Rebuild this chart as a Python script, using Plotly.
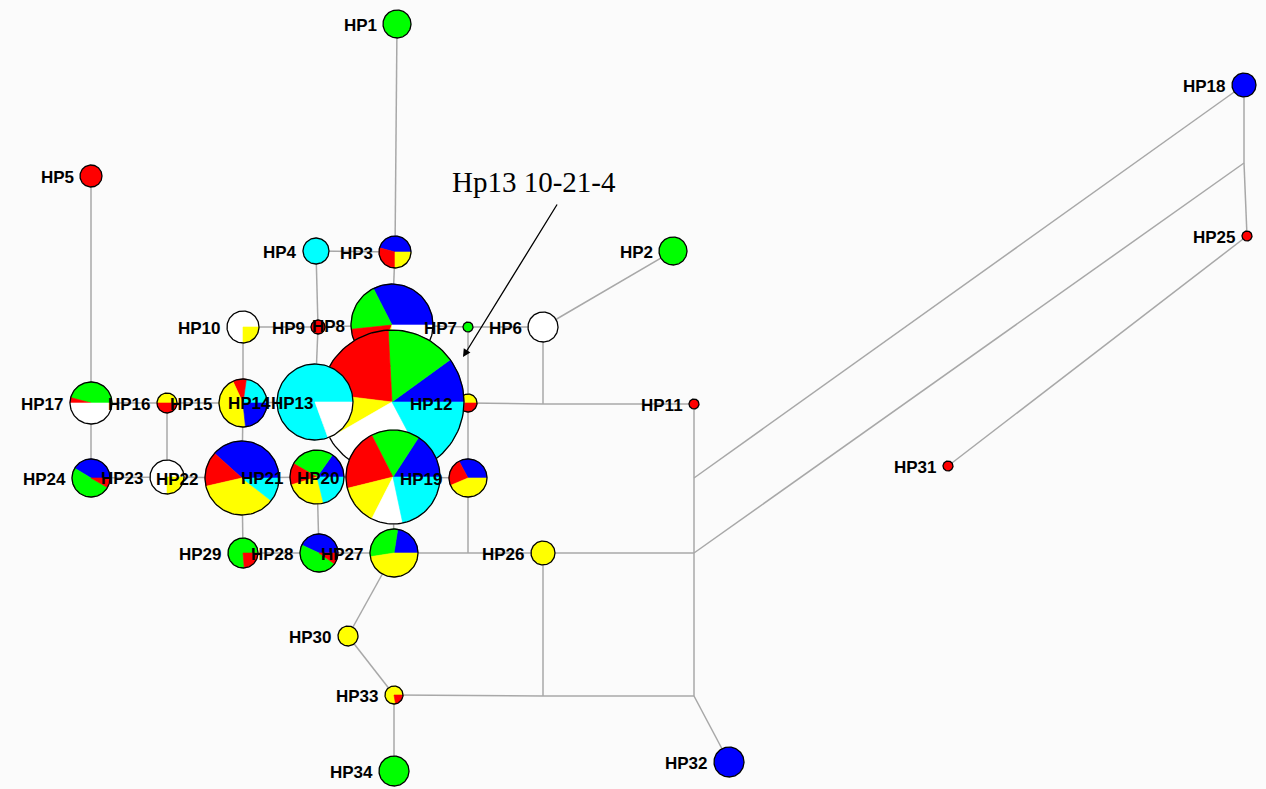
import numpy as np
import plotly.graph_objects as go

# Population colours used in the pies
pop_colors = {
    "B": "#0000ff",
    "G": "#00ff00",
    "R": "#ff0000",
    "Y": "#ffff00",
    "W": "#ffffff",
    "C": "#00ffff",
}

haplotypes = [f"HP{i}" for i in range(1, 35)]

# Share of each population within a haplotype, in the order the wedges are
# laid out (counter-clockwise, starting due east). Units are pie degrees.
composition = {
    "HP1": [("G", 360)],
    "HP2": [("G", 360)],
    "HP3": [("B", 165), ("R", 105), ("Y", 90)],
    "HP4": [("C", 360)],
    "HP5": [("R", 360)],
    "HP6": [("W", 360)],
    "HP7": [("G", 360)],
    "HP8": [("B", 117), ("G", 69), ("R", 60), ("Y", 20), ("W", 94)],
    "HP9": [("R", 360)],
    "HP10": [("W", 270), ("Y", 90)],
    "HP11": [("R", 360)],
    "HP12": [("Y", 180), ("R", 180)],
    "HP13": [("B", 36), ("G", 57), ("R", 80), ("Y", 37), ("W", 88), ("C", 62)],
    "HP14": [("C", 290), ("W", 70)],
    "HP15": [("C", 82), ("R", 33), ("Y", 161), ("B", 84)],
    "HP16": [("Y", 180), ("R", 180)],
    "HP17": [("G", 165), ("R", 15), ("W", 180)],
    "HP18": [("B", 360)],
    "HP19": [("B", 118), ("R", 85), ("Y", 157)],
    "HP20": [("B", 57), ("G", 60), ("R", 77), ("Y", 49), ("W", 39), ("C", 78)],
    "HP21": [("B", 55), ("G", 95), ("R", 47), ("Y", 87), ("C", 76)],
    "HP22": [("B", 138), ("R", 55), ("Y", 129), ("C", 38)],
    "HP23": [("W", 270), ("Y", 90)],
    "HP24": [("B", 149), ("G", 181), ("R", 30)],
    "HP25": [("R", 360)],
    "HP26": [("Y", 360)],
    "HP27": [("B", 81), ("G", 108), ("Y", 171)],
    "HP28": [("B", 155), ("G", 170), ("R", 35)],
    "HP29": [("G", 275), ("R", 85)],
    "HP30": [("Y", 360)],
    "HP31": [("R", 360)],
    "HP32": [("B", 360)],
    "HP33": [("Y", 280), ("R", 80)],
    "HP34": [("G", 360)],
}

# Network layout (screen units) and node radii
node_x = [397, 673, 395, 316, 91, 543, 468, 392, 318, 243, 694, 468, 392, 315, 243, 167, 91,
          1244, 468, 393, 317, 242, 167, 91, 1247, 543, 394, 319, 243, 348, 948, 729, 394, 394]
node_y = [24, 251, 252, 251, 176, 327, 327, 325, 327, 327, 404, 403, 402, 402, 403, 403, 403,
          85, 478, 477, 477, 478, 477, 478, 236, 553, 553, 553, 553, 636, 466, 762, 695, 771]
node_r = [14, 14, 16, 13, 11, 15, 5, 41, 7, 16, 5, 9, 72, 38, 24, 10, 21,
          12, 19, 47, 27, 37, 17, 19, 5, 12, 24, 19, 15, 10, 5, 15, 9, 15]

# Median / branching vertices of the network
junctions = {
    "J1": (468, 553), "J2": (694, 553), "J3": (543, 404), "J4": (694, 478),
    "J5": (694, 696), "J6": (1244, 163), "J7": (543, 696),
}

edges = [
    ("HP1", "HP3"), ("HP3", "HP8"), ("HP4", "HP3"), ("HP4", "HP9"), ("HP9", "HP14"),
    ("HP10", "HP9"), ("HP9", "HP8"), ("HP8", "HP7"), ("HP7", "HP6"), ("HP6", "HP2"),
    ("HP10", "HP15"), ("HP5", "HP17"), ("HP17", "HP16"), ("HP16", "HP15"),
    ("HP15", "HP14"), ("HP14", "HP13"), ("HP13", "HP12"), ("HP17", "HP24"),
    ("HP16", "HP23"), ("HP15", "HP22"), ("HP24", "HP23"), ("HP23", "HP22"),
    ("HP22", "HP21"), ("HP21", "HP20"), ("HP20", "HP19"), ("HP22", "HP29"),
    ("HP21", "HP28"), ("HP29", "HP28"), ("HP28", "HP27"), ("HP20", "HP27"),
    ("HP14", "HP20"), ("HP7", "HP12"), ("HP12", "HP19"), ("HP19", "J1"),
    ("HP27", "J1"), ("J1", "HP26"), ("HP26", "J2"), ("HP12", "J3"), ("J3", "HP11"),
    ("HP6", "J3"), ("HP11", "J4"), ("J4", "J2"), ("J2", "J5"), ("J4", "HP18"),
    ("J2", "J6"), ("HP18", "J6"), ("J6", "HP25"), ("HP25", "HP31"),
    ("HP27", "HP30"), ("HP30", "HP33"), ("HP33", "HP34"), ("HP33", "J7"),
    ("J7", "J5"), ("J7", "HP26"), ("J5", "HP32"),
]

callout_text = "Hp13 10-21-4"
callout_from = (558, 203)
callout_to = (463, 357)

W, H = 1266, 789

pos = {h: (x, y) for h, x, y in zip(haplotypes, node_x, node_y)}
pos.update(junctions)
rad = dict(zip(haplotypes, node_r))

fig = go.Figure()

# links
ex, ey = [], []
for a, b in edges:
    (x0, y0), (x1, y1) = pos[a], pos[b]
    ex += [x0, x1, None]
    ey += [y0, y1, None]
fig.add_trace(go.Scatter(x=ex, y=ey, mode="lines",
                         line=dict(color="#a8a8a8", width=1.5),
                         hoverinfo="skip", showlegend=False))


def arc(cx, cy, r, a0, a1, n):
    t = np.radians(np.linspace(a0, a1, n))
    return cx + r * np.cos(t), cy - r * np.sin(t)


# pies
for h in haplotypes:
    cx, cy = pos[h]
    r = rad[h]
    parts = composition[h]
    total = sum(v for _, v in parts)
    start = 0.0
    if len(parts) > 1:
        for pop, v in parts:
            span = 360.0 * v / total
            ax_, ay_ = arc(cx, cy, r, start, start + span, max(4, int(span / 2)))
            xs = [cx] + list(ax_) + [cx]
            ys = [cy] + list(ay_) + [cy]
            fig.add_trace(go.Scatter(
                x=xs, y=ys, mode="lines", fill="toself",
                fillcolor=pop_colors[pop],
                line=dict(color=pop_colors[pop], width=0.6),
                hoverinfo="skip", showlegend=False))
            start += span
        ox, oy = arc(cx, cy, r, 0, 360, 120)
        fig.add_trace(go.Scatter(x=ox, y=oy, mode="lines",
                                 line=dict(color="#000000", width=1.3),
                                 hoverinfo="skip", showlegend=False))
    else:
        ox, oy = arc(cx, cy, r, 0, 360, 120)
        fig.add_trace(go.Scatter(x=ox, y=oy, mode="lines", fill="toself",
                                 fillcolor=pop_colors[parts[0][0]],
                                 line=dict(color="#000000", width=1.3),
                                 hoverinfo="skip", showlegend=False))

annotations = []
for h in haplotypes:
    cx, cy = pos[h]
    annotations.append(dict(
        x=cx - rad[h] - 4, y=cy + 1.5, xref="x", yref="y",
        text=f"<b>{h}</b>", showarrow=False, xanchor="right", yanchor="middle",
        font=dict(family="Liberation Sans, Arial", size=17, color="#000000")))

annotations.append(dict(
    x=534, y=182, xref="x", yref="y", text=callout_text, showarrow=False,
    font=dict(family="Liberation Serif, Times New Roman", size=29, color="#000000")))
annotations.append(dict(
    x=callout_to[0], y=callout_to[1], ax=callout_from[0], ay=callout_from[1],
    xref="x", yref="y", axref="x", ayref="y", text="", showarrow=True,
    arrowhead=2, arrowsize=1.2, arrowwidth=1.3, arrowcolor="#000000"))

fig.update_layout(
    width=W, height=H,
    margin=dict(l=0, r=0, t=0, b=0),
    paper_bgcolor="#fbfbfb", plot_bgcolor="#fbfbfb",
    xaxis=dict(range=[0, W], visible=False, fixedrange=True),
    yaxis=dict(range=[H, 0], visible=False, fixedrange=True),
    annotations=annotations,
    showlegend=False,
)

fig.write_html("out.html")
